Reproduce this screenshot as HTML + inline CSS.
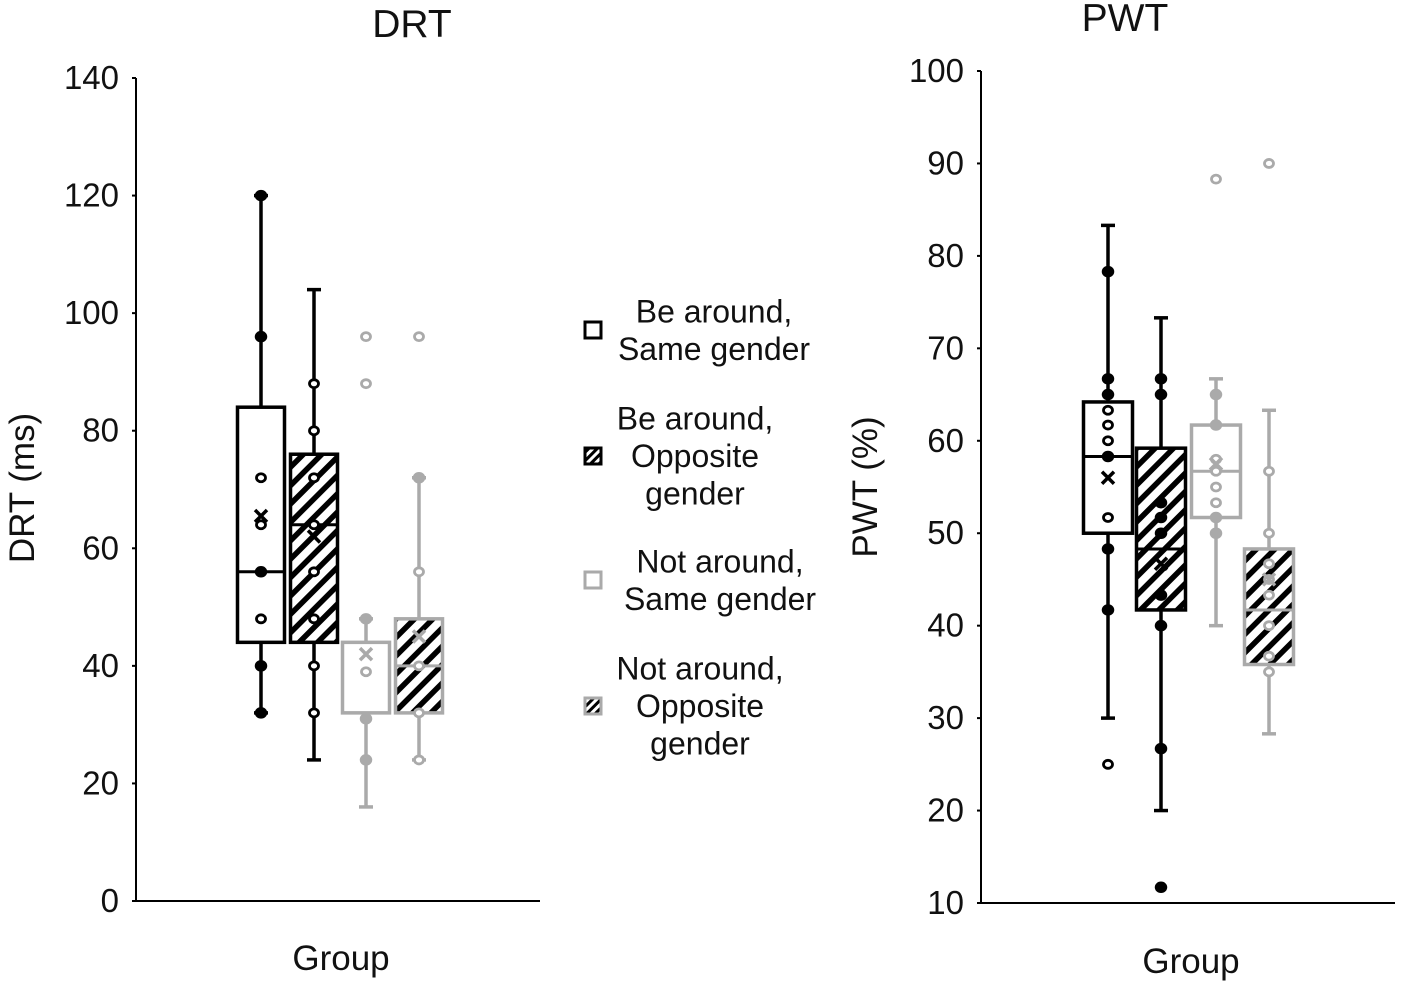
<!DOCTYPE html>
<html><head><meta charset="utf-8"><style>
html,body{margin:0;padding:0;background:#fff}
svg{display:block;font-family:"Liberation Sans",Arial,sans-serif}
</style></head><body>
<svg id="chart" width="1414" height="993" viewBox="0 0 1414 993" xmlns="http://www.w3.org/2000/svg">
<defs>
<pattern id="hatch" patternUnits="userSpaceOnUse" width="13" height="13" patternTransform="rotate(45)">
<rect x="0" y="0" width="13" height="13" fill="#fff"/><rect x="0" y="0" width="5.5" height="13" fill="#000"/>
</pattern>
<pattern id="hatchS" patternUnits="userSpaceOnUse" width="6" height="6" patternTransform="rotate(45)">
<rect x="0" y="0" width="6" height="6" fill="#fff"/><rect x="0" y="0" width="3" height="6" fill="#000"/>
</pattern>
</defs>
<g id="left"></g>
<g id="right"></g>
<g id="legend"></g>
</svg>
<script>
// ---- DRT data ----
const drtTicks = [0,20,40,60,80,100,120,140];
const drtQ1 = [44,44,32,32];
const drtMed = [56,64,32,40];
const drtQ3 = [84,76,44,48];
const drtLo = [32,24,16,24];
const drtHi = [120,104,48,72];
const drtMean = [65.5,62,42,45];
const drtPts = [[120,96,72,64,56,48,40,32],[88,80,72,64,56,48,40,32],[96,88,48,39,31,24],[96,72,56,40,32,24]];
const drtFilled = [[1,1,0,0,1,0,1,1],[0,0,0,0,0,0,0,0],[0,0,1,0,1,1],[0,1,0,0,0,0]];
// ---- PWT data ----
const pwtTicks = [10,20,30,40,50,60,70,80,90,100];
const pwtQ1 = [50,41.7,51.7,35.8];
const pwtMed = [58.3,48.3,56.7,41.7];
const pwtQ3 = [64.2,59.2,61.7,48.3];
const pwtLo = [30,20,40,28.3];
const pwtHi = [83.3,73.3,66.7,63.3];
const pwtMean = [56,46.7,57.5,45];
const pwtPts = [[78.3,66.7,65,63.3,61.7,60,58.3,51.7,48.3,41.7,25],[66.7,65,53.3,51.7,50,43.3,40,26.7,11.7],[88.3,65,61.7,58,56.7,55,53.3,51.7,50],[90,56.7,50,46.7,45,43.3,40,36.7,35]];
const pwtFilled = [[1,1,1,0,0,0,1,0,1,1,0],[1,1,1,1,1,1,1,1,1],[0,1,1,0,0,0,0,1,1],[0,0,0,0,0,0,0,0,0]];
const seriesNames = ["Be around, Same gender","Be around, Opposite gender","Not around, Same gender","Not around, Opposite gender"];

const NS="http://www.w3.org/2000/svg";
function mk(parent,tag,attrs){const e=document.createElementNS(NS,tag);for(const k in attrs)e.setAttribute(k,attrs[k]);parent.appendChild(e);return e;}
const colors=["#000","#000","#aaa","#aaa"];
const fills=["#fff","url(#hatch)","#fff","url(#hatch)"];

function panel(g,cfg){
  const y=v=>cfg.y0+(v-cfg.vmin)/(cfg.vmax-cfg.vmin)*(cfg.y1-cfg.y0);
  const ya=mk(g,'line',{x1:cfg.ax,x2:cfg.ax,y1:y(cfg.vmin),y2:y(cfg.vmax),stroke:'#000','stroke-width':2});
  
  
  const xa=mk(g,'line',{x1:cfg.ax,x2:cfg.xend,y1:y(cfg.vmin),y2:y(cfg.vmin),stroke:'#000','stroke-width':2});
  
  
  cfg.ticks.forEach(t=>{
    const tk=mk(g,'line',{x1:cfg.ax-4,x2:cfg.ax,y1:y(t),y2:y(t),stroke:'#000','stroke-width':2});
    
    
    const tl=mk(g,'text',{x:cfg.ax-17,y:y(t)+11,'text-anchor':'end','font-size':33,fill:'#111'});
    tl.textContent=t;
    
    
  });
  const tt=mk(g,'text',{x:cfg.titleX,y:cfg.titleY,'text-anchor':'middle','font-size':39,fill:'#111'});
  tt.textContent=cfg.title;
  
  
  const yt=mk(g,'text',{x:0,y:0,'text-anchor':'middle','font-size':35,fill:'#111',transform:`translate(${cfg.ytX},${cfg.ytY}) rotate(-90)`});
  yt.textContent=cfg.ytitle;
  
  
  const xt=mk(g,'text',{x:cfg.xtX,y:cfg.xtY,'text-anchor':'middle','font-size':35,fill:'#111'});
  xt.textContent='Group';
  
  
  for(let i=0;i<4;i++){
    const cx=cfg.cx[i],w=cfg.bw,c=colors[i];
    const bg=mk(g,'g',{});
    
    
    const wl=mk(bg,'line',{x1:cx,x2:cx,y1:y(cfg.lo[i]),y2:y(cfg.hi[i]),stroke:c,'stroke-width':3.5});
    
    
    [cfg.lo[i],cfg.hi[i]].forEach(v=>{
      const cap=mk(bg,'line',{x1:cx-7,x2:cx+7,y1:y(v),y2:y(v),stroke:c,'stroke-width':3.5});
      
      
    });
    const r=mk(bg,'rect',{x:cx-w/2,y:y(cfg.q3[i]),width:w,height:y(cfg.q1[i])-y(cfg.q3[i]),fill:fills[i],stroke:c,'stroke-width':3.5});
    
    
    const md=mk(bg,'line',{x1:cx-w/2,x2:cx+w/2,y1:y(cfg.med[i]),y2:y(cfg.med[i]),stroke:c,'stroke-width':3});
    
    
    cfg.pts[i].forEach((v,j)=>{
      const f=cfg.filled[i][j];
      const p=mk(bg,'ellipse',{cx:cx,cy:y(v),rx:f?5.5:4.5,ry:f?5:4,fill:f?c:'#fff',stroke:c,'stroke-width':f?1.5:2.8});
      
      
    });
    const my=y(cfg.mean[i]);
    const m=mk(bg,'path',{d:`M${cx-6} ${my-6}L${cx+6} ${my+6}M${cx+6} ${my-6}L${cx-6} ${my+6}`,stroke:c,'stroke-width':3.5,fill:'none'});
    
    
  }
}
panel(document.getElementById('left'),{vmin:0,vmax:140,y0:901,y1:78,ax:136,xend:540,ticks:drtTicks,
  q1:drtQ1,med:drtMed,q3:drtQ3,lo:drtLo,hi:drtHi,mean:drtMean,pts:drtPts,filled:drtFilled,
  cx:[261,314,366,419],bw:47,title:'DRT',titleX:412,titleY:37,ytitle:'DRT (ms)',ytX:34,ytY:488,xtX:341,xtY:970});
panel(document.getElementById('right'),{vmin:10,vmax:100,y0:903,y1:71,ax:981,xend:1395,ticks:pwtTicks,
  q1:pwtQ1,med:pwtMed,q3:pwtQ3,lo:pwtLo,hi:pwtHi,mean:pwtMean,pts:pwtPts,filled:pwtFilled,
  cx:[1108,1161,1216,1269],bw:49,title:'PWT',titleX:1125,titleY:31,ytitle:'PWT (%)',ytX:877,ytY:487,xtX:1191,xtY:973});

// legend
const lg=document.getElementById('legend');
const legLines=[["Be around,","Same gender"],["Be around,","Opposite","gender"],["Not around,","Same gender"],["Not around,","Opposite","gender"]];
const legY=[330,456,580,706];
const legTextX=[714,695,720,700];
for(let i=0;i<4;i++){
  const eg=mk(lg,'g',{});
  
  
  const sq=mk(eg,'rect',{x:585,y:legY[i]-8,width:16,height:16,fill:i%2?'url(#hatchS)':'#fff',stroke:colors[i],'stroke-width':3});
  
  
  const n=legLines[i].length, lh=37.5;
  legLines[i].forEach((s,k)=>{
    const t=mk(eg,'text',{x:legTextX[i],y:legY[i]+11+(k-(n-1)/2)*lh,'text-anchor':'middle','font-size':32,fill:'#111'});
    t.textContent=s;
    
    
  });
}
</script>
</body></html>
